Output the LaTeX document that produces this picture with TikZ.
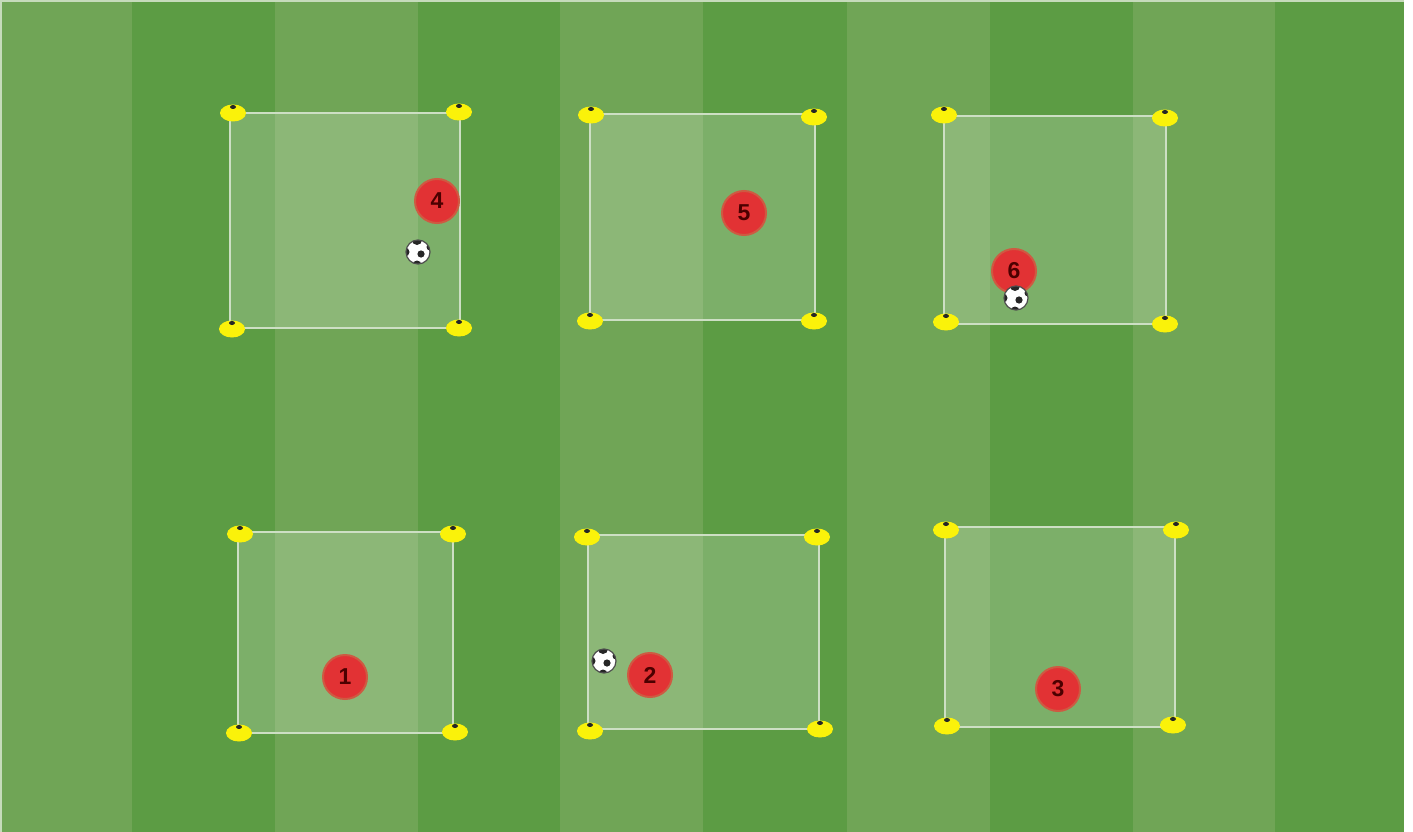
\documentclass[tikz,border=0pt]{standalone}
\usepackage{fontspec}
\setmainfont{Liberation Sans}
\usetikzlibrary{positioning,shapes.geometric}

\definecolor{pitchlight}{HTML}{70A556}
\definecolor{pitchdark}{HTML}{5C9C44}
\definecolor{conefill}{HTML}{FAF20A}
\definecolor{playerred}{HTML}{E23234}
\definecolor{playerrim}{HTML}{CE5A42}

\tikzset{
  stripe/.style={draw=none,fill=#1},
  grid/.style={draw=white!65!pitchlight,line width=2.5pt,fill=white,fill opacity=0.2},
  cone/.style={ellipse,fill=conefill,minimum width=26pt,minimum height=17pt,inner sep=0pt},
  conetip/.style={ellipse,fill=black!85,minimum width=6pt,minimum height=4pt,inner sep=0pt},
  player/.style={circle,fill=playerred,draw=playerrim,line width=2pt,minimum size=44pt,inner sep=0pt,text=black!70!red,font=\fontsize{23}{25}\selectfont\bfseries},
  ball/.style={circle,fill=white,draw=black!70,line width=1.2pt,minimum size=24pt,inner sep=0pt,
    path picture={
      \fill[black!85] (path picture bounding box.center) ++(3,2) circle (3.6);
      \fill[black!85] (path picture bounding box.center) ++(-1,-12) circle (5);
      \fill[black!85] (path picture bounding box.center) ++(-13,0) circle (4.5);
      \fill[black!85] (path picture bounding box.center) ++(12,-5) circle (3.5);
      \fill[black!85] (path picture bounding box.center) ++(-1,13) circle (4.5);
    }},
}

\begin{document}
\begin{tikzpicture}[x=1pt,y=-1pt]
\useasboundingbox (0,0) rectangle (1413,832);
% pitch stripes
\fill[white] (0,0) rectangle (1413,832);
\fill[white!60!pitchlight] (0,0) rectangle (1404,832);
\foreach \xa/\xb/\col in {2/132/pitchlight,132/275/pitchdark,275/418/pitchlight,418/560/pitchdark,560/703/pitchlight,703/847/pitchdark,847/990/pitchlight,990/1133/pitchdark,1133/1275/pitchlight,1275/1404/pitchdark}
  \fill[stripe=\col] (\xa,2) rectangle (\xb,832);

% the six grids
\foreach \xa/\ya/\xb/\yb in {230/113/460/328,590/114/815/320,944/116/1166/324,238/532/453/733,588/535/819/729,945/527/1175/727}
  \draw[grid] (\xa,\ya) rectangle (\xb,\yb);

% corner cones
\foreach \name/\x/\y in {
  fourtl/233/113,fourtr/459/112,fourbl/232/329,fourbr/459/328,
  fivetl/591/115,fivetr/814/117,fivebl/590/321,fivebr/814/321,
  sixtl/944/115,sixtr/1165/118,sixbl/946/322,sixbr/1165/324,
  onetl/240/534,onetr/453/534,onebl/239/733,onebr/455/732,
  twotl/587/537,twotr/817/537,twobl/590/731,twobr/820/729,
  threetl/946/530,threetr/1176/530,threebl/947/726,threebr/1173/725}{
  \node[cone] (c\name) at (\x,\y) {};
  \node[conetip] (t\name) at ([yshift=6pt]c\name.center) {};
}

% players
\node[player] (pone) at (345,677) {1};
\node[player] (ptwo) at (650,675) {2};
\node[player] (pthree) at (1058,689) {3};
\node[player] (pfour) at (437,201) {4};
\node[player] (pfive) at (744,213) {5};
\node[player] (psix) at (1014,271) {6};

% balls
\node[ball] (bfour) at (418,252) {};
\node[ball] (bsix) at (1016,298) {};
\node[ball] (btwo) at (604,661) {};
\end{tikzpicture}
\end{document}
